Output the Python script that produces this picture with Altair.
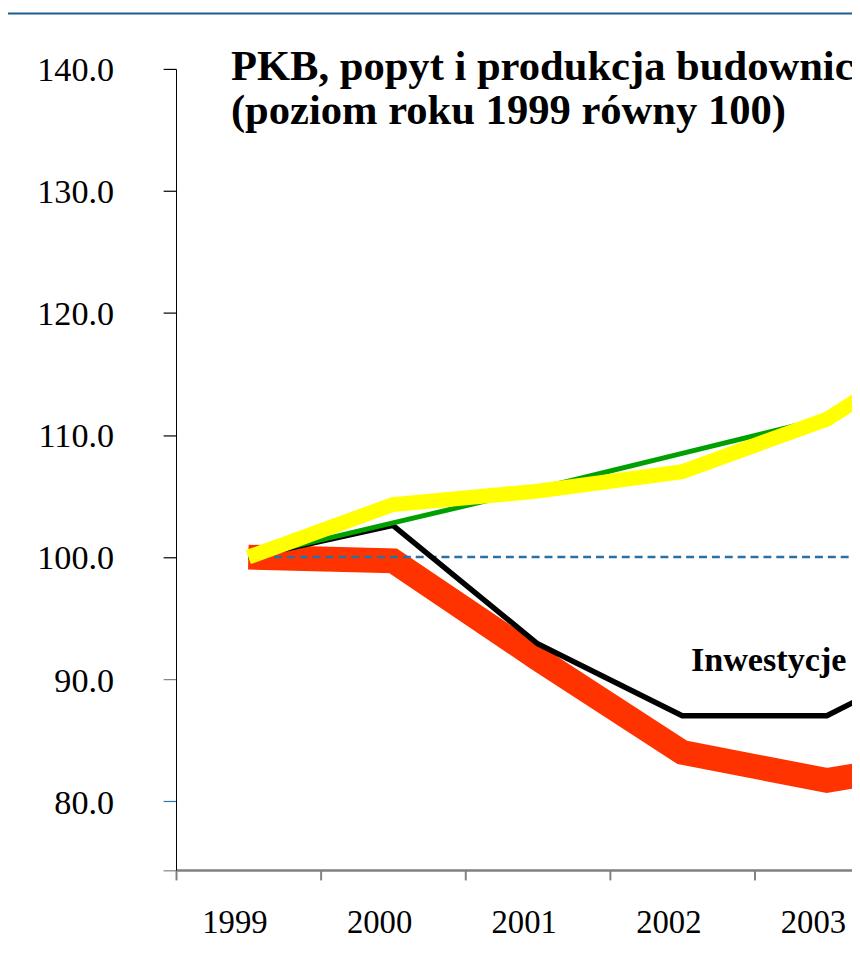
import altair as alt
import pandas as pd

# ---- data ----
YEARS = ["1999", "2000", "2001", "2002", "2003", "2004"]
PKB = [100.0, 102.8, 105.6, 108.5, 111.4, 116.0]          # green
POPYT = [100.0, 104.3, 105.4, 107.0, 111.3, 118.8]        # yellow
INWESTYCJE = [100.0, 102.6, 92.9, 87.0, 87.0, 93.0]       # black
BUDOWNICTWO = [100.0, 99.7, 91.7, 84.0, 81.7, 83.7]       # red
BASE = [100.0, 100.0, 100.0, 100.0, 100.0, 100.0]         # dashed reference
Y_TICKS = [80, 90, 100, 110, 120, 130, 140]
Y_DOMAIN = [74.36, 140]
X_DOMAIN = [-0.5, 4.174]
X_TICKS = [-0.5, 0.5, 1.5, 2.5, 3.5]
TITLE_1 = "PKB, popyt i produkcja budownictwa"
TITLE_2 = "(poziom roku 1999 równy 100)"
LABEL = "Inwestycje"
LABEL_X, LABEL_Y = 3.06, 90.65

# ---- layout ----
W, H = 682.4, 808.7
PAD_L, PAD_T, PAD_R = 169.6, 57, 0
PAD_B = 949 - PAD_T - H
FONT = "Liberation Serif"


def frame(values):
    return pd.DataFrame({"i": list(range(len(YEARS))), "year": YEARS, "v": values})


year_arr = "[" + ",".join("'" + y + "'" for y in YEARS) + "]"

x_axis = alt.Axis(
    values=X_TICKS,
    labelExpr=f"{year_arr}[datum.value + 0.5]",
    labelOffset=59,
    labelFlush=False,
    labelOverlap=False,
    labelFont=FONT,
    labelFontSize=33,
    labelColor="black",
    labelBaseline="alphabetic",
    labelPadding=53.3,
    tickSize=10,
    tickColor="#808080",
    tickWidth=2,
    domainColor="#808080",
    domainWidth=2.5,
    grid=False,
    title=None,
)

y_axis = alt.Axis(
    values=[Y_DOMAIN[0]] + Y_TICKS,
    labelExpr=f"datum.value < {Y_TICKS[0] - 1} ? '' : format(datum.value, '.1f')",
    labelFont=FONT,
    labelFontSize=34.5,
    labelColor="black",
    labelPadding=50,
    labelOffset=2,
    tickSize=13,
    tickColor={
        "condition": [
            {"test": "datum.value == 80", "value": "#2e75b6"},
            {"test": "datum.value < 95", "value": "#808080"},
        ],
        "value": "#000000",
    },
    tickWidth=1.2,
    domainColor="black",
    domainWidth=1,
    grid=False,
    title=None,
)

X = alt.X("i:Q", scale=alt.Scale(domain=X_DOMAIN, nice=False, zero=False), axis=x_axis)
Y = alt.Y("v:Q", scale=alt.Scale(domain=Y_DOMAIN, nice=False, zero=False), axis=y_axis)


def series(values, color, width, dash=None):
    kw = dict(color=color, strokeWidth=width, clip=True)
    if dash:
        kw["strokeDash"] = dash
    return alt.Chart(frame(values)).mark_line(**kw).encode(x=X, y=Y)


red = series(BUDOWNICTWO, "#ff3300", 25)
dashed = series(BASE, "#2a70a2", 2.5, [8, 5])
black = series(INWESTYCJE, "#000000", 5.5)
green = series(PKB, "#00a000", 5)
yellow = series(POPYT, "#ffff00", 15)

label = alt.Chart(pd.DataFrame({"i": [LABEL_X], "v": [LABEL_Y], "t": [LABEL]})).mark_text(
    font=FONT, fontSize=34.5, fontWeight="bold", color="black", align="left", baseline="alphabetic"
).encode(x=X, y=Y, text="t:N")

title1 = alt.Chart(pd.DataFrame({"t": [TITLE_1]})).mark_text(
    font=FONT, fontSize=43, fontWeight="bold", color="black", align="left", baseline="alphabetic"
).encode(text="t:N", x=alt.value(55.4), y=alt.value(11))

title2 = alt.Chart(pd.DataFrame({"t": [TITLE_2]})).mark_text(
    font=FONT, fontSize=43, fontWeight="bold", color="black", align="left", baseline="alphabetic"
).encode(text="t:N", x=alt.value(55.4), y=alt.value(55.5))

strip = alt.Chart(pd.DataFrame({"a": [0]})).mark_rect(color="#1b5e89").encode(
    x=alt.value(-PAD_L), x2=alt.value(W + PAD_R), y=alt.value(-PAD_T), y2=alt.value(-PAD_T + 2)
)

chart = (
    alt.layer(strip, red, dashed, black, green, yellow, label, title1, title2)
    .properties(
        width=W,
        height=H,
        autosize=alt.AutoSizeParams(type="none"),
        padding={"left": PAD_L, "top": PAD_T, "right": PAD_R, "bottom": PAD_B},
        background="white",
    )
    .configure_view(stroke=None)
)

chart.save("out.html", embed_options={"renderer": "svg", "actions": False})
